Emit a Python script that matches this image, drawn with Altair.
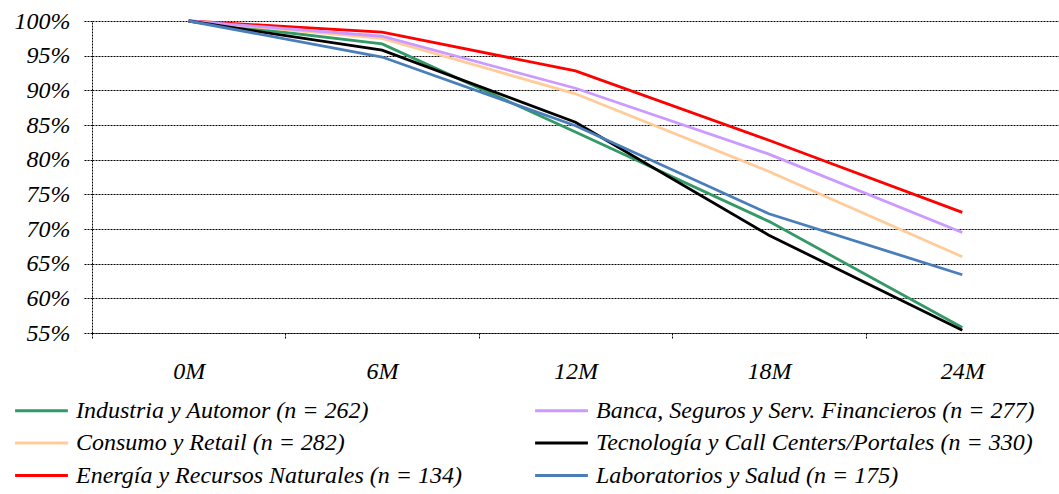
import altair as alt
import pandas as pd

months = ["0M", "6M", "12M", "18M", "24M"]
series_names = [
    "Industria y Automor (n = 262)",
    "Consumo y Retail (n = 282)",
    "Energía y Recursos Naturales (n = 134)",
    "Banca, Seguros y Serv. Financieros (n = 277)",
    "Tecnología y Call Centers/Portales (n = 330)",
    "Laboratorios y Salud (n = 175)",
]
industria = [1.0, 0.967, 0.840, 0.711, 0.558]
consumo = [1.0, 0.975, 0.895, 0.783, 0.660]
energia = [1.0, 0.984, 0.928, 0.828, 0.724]
banca = [1.0, 0.978, 0.903, 0.808, 0.695]
tecnologia = [1.0, 0.958, 0.854, 0.691, 0.554]
laboratorios = [1.0, 0.948, 0.849, 0.722, 0.634]
colors = ["#339966", "#FFCC99", "#FF0000", "#CC99FF", "#000000", "#4A7EBB"]

values = [industria, consumo, energia, banca, tecnologia, laboratorios]
rows = []
for name, vals in zip(series_names, values):
    for m, v in zip(months, vals):
        rows.append({"mes": m, "serie": name, "valor": v})
df = pd.DataFrame(rows)

FONT = "Liberation Serif"
FS = 24

chart = alt.Chart(df).mark_line(strokeWidth=2.8).encode(
    x=alt.X("mes:O", sort=months,
            scale=alt.Scale(type="band", paddingInner=0, paddingOuter=0),
            axis=alt.Axis(title=None, labelAngle=0, tickBand="extent",
                          grid=False, domainDash=[2, 1], domainColor="#000000",
                          tickDash=[2, 1], tickColor="#000000", tickSize=6,
                          labelFont=FONT, labelFontStyle="italic", labelFontSize=FS,
                          labelColor="#000000", labelPadding=20)),
    y=alt.Y("valor:Q",
            scale=alt.Scale(domain=[0.55, 1.0], nice=False, zero=False),
            axis=alt.Axis(title=None, format=".0%", values=[0.55, 0.6, 0.65, 0.7, 0.75, 0.8, 0.85, 0.9, 0.95, 1.0],
                          gridDash=[2, 1], gridColor="#000000", gridOpacity=1, gridWidth=1,
                          domainDash=[2, 1], domainColor="#000000",
                          tickDash=[2, 1], tickColor="#000000", tickSize=8,
                          labelFont=FONT, labelFontStyle="italic", labelFontSize=FS,
                          labelColor="#000000", labelPadding=14)),
    color=alt.Color("serie:N", sort=series_names,
                    scale=alt.Scale(domain=series_names, range=colors),
                    legend=alt.Legend(title=None, orient="none", legendX=-63, legendY=377,
                                      columns=2, columnPadding=67, rowPadding=7.5,
                                      symbolType="M-2.4,0H2.4", symbolSize=484, symbolStrokeWidth=3,
                                      labelFont=FONT, labelFontStyle="italic", labelFontSize=FS,
                                      labelColor="#000000", labelOffset=22, labelLimit=600)),
).properties(
    width=967, height=312,
    padding={"left": 92, "top": 21, "right": 0, "bottom": 161},
    autosize=alt.AutoSizeParams(type="none"),
).configure_view(stroke=None)

chart.save("out.html", embed_options={"renderer": "svg", "actions": False})
